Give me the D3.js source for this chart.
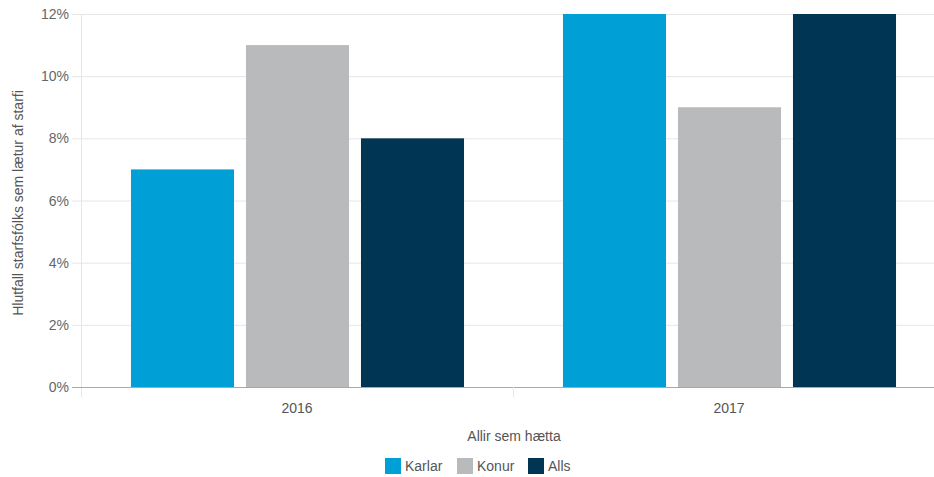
<!DOCTYPE html>
<html><head><meta charset="utf-8">
<script src="https://cdn.jsdelivr.net/npm/d3@7"></script>
<style>body{margin:0;background:#fff;}svg{display:block;font-family:"Liberation Sans",Arial,sans-serif;}</style>
</head><body><svg id="c" width="934" height="477"></svg>
<script>
const categories = ["2016", "2017"];
const series = ["Karlar", "Konur", "Alls"];
const karlar = [7, 12];
const konur = [11, 9];
const alls = [8, 12];
const yTicks = [0, 2, 4, 6, 8, 10, 12];
const colors = ["#009fd6", "#b9babc", "#003554"];
const values = [karlar, konur, alls];

(function () {
const svg = d3.select("#c");
const pLeft = 81, pRight = 945, pTop = 14, pBottom = 387;
const x0 = d3.scaleBand().domain(categories).range([pLeft, pRight]).padding(0);
const bw = x0.bandwidth();
const x1 = d3.scaleBand().domain(series).range([bw * 0.1157, bw * 0.8866]).paddingInner(0.104).paddingOuter(0);
const y = d3.scaleLinear().domain([0, 12]).range([pBottom, pTop]);

// grid
svg.append("g").selectAll("line").data(yTicks.filter(d => d > 0)).join("line")
  .attr("x1", 72).attr("x2", 934).attr("y1", d => y(d) + 0.5).attr("y2", d => y(d) + 0.5)
  .attr("stroke", "#e6e6e6").attr("stroke-width", 1);
// y axis line
svg.append("line").attr("x1", pLeft + 0.5).attr("x2", pLeft + 0.5).attr("y1", pTop).attr("y2", 397)
  .attr("stroke", "#e6e6e6");

// bars
const g = svg.append("g");
categories.forEach((c, ci) => {
  series.forEach((s, si) => {
    g.append("rect")
      .attr("x", x0(c) + x1(s)).attr("width", x1.bandwidth())
      .attr("y", y(values[si][ci])).attr("height", y(0) - y(values[si][ci]))
      .attr("fill", colors[si]);
  });
});

// baseline
svg.append("line").attr("x1", 72).attr("x2", 934).attr("y1", pBottom + 0.5).attr("y2", pBottom + 0.5)
  .attr("stroke", "#a8a8a8");
// category separator ticks
svg.append("g").selectAll("line").data(categories.slice(1)).join("line")
  .attr("x1", d => x0(d) + 0.5).attr("x2", d => x0(d) + 0.5).attr("y1", pBottom).attr("y2", 397)
  .attr("stroke", "#e6e6e6");

// y tick labels
svg.append("g").selectAll("text").data(yTicks).join("text")
  .attr("x", 69).attr("y", d => y(d) + 5).attr("text-anchor", "end")
  .attr("font-size", 14).attr("fill", "#666").text(d => d + "%");

// x labels
svg.append("g").selectAll("text").data(categories).join("text")
  .attr("x", d => x0(d) + bw / 2).attr("y", 413).attr("text-anchor", "middle")
  .attr("font-size", 14).attr("fill", "#555").text(d => d);

svg.append("text").attr("x", 514).attr("y", 441).attr("text-anchor", "middle")
  .attr("font-size", 14).attr("fill", "#555").text("Allir sem hætta");

svg.append("text").attr("transform", "translate(23,203) rotate(-90)").attr("text-anchor", "middle")
  .attr("font-size", 14).attr("fill", "#555").text("Hlutfall starfsfólks sem lætur af starfi");

// legend
const legX = [385, 457, 528];
const leg = svg.append("g");
series.forEach((s, i) => {
  leg.append("rect").attr("x", legX[i]).attr("y", 458).attr("width", 16).attr("height", 16).attr("fill", colors[i]);
  leg.append("text").attr("x", legX[i] + 20).attr("y", 471).attr("font-size", 14).attr("fill", "#555").text(s);
});
})();
</script></body></html>
